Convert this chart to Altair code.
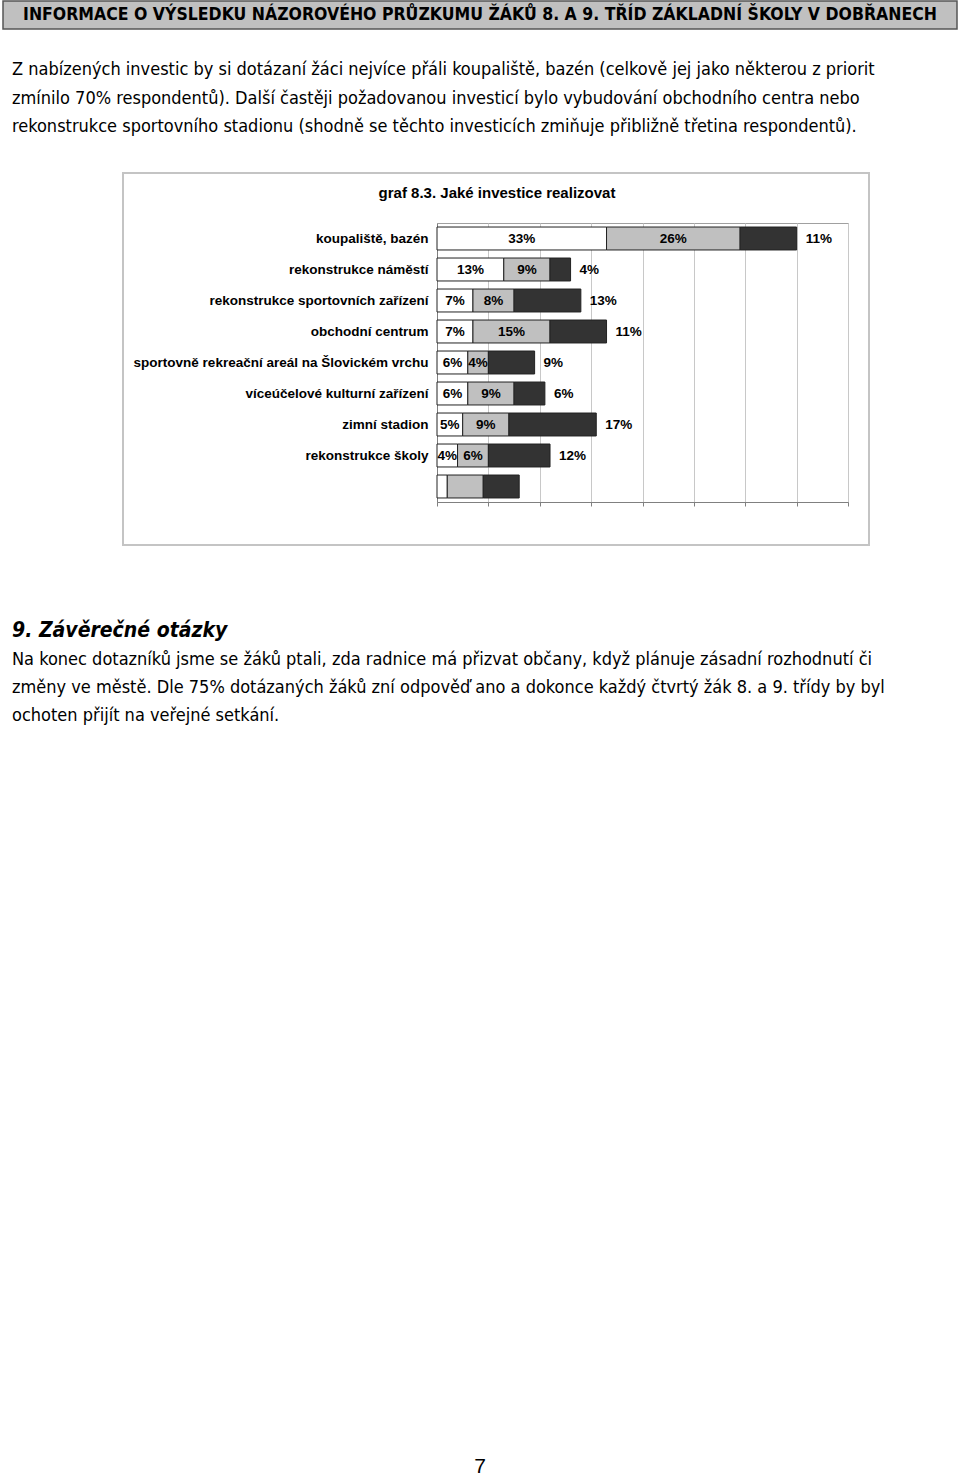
import altair as alt
import pandas as pd

# ---------------- data ----------------
categories = [
    "koupaliště, bazén",
    "rekonstrukce náměstí",
    "rekonstrukce sportovních zařízení",
    "obchodní centrum",
    "sportovně rekreační areál na Šlovickém vrchu",
    "víceúčelové kulturní zařízení",
    "zimní stadion",
    "rekonstrukce školy",
    "_",
]
series = ["1. priorita", "2. priorita", "3. priorita"]
prio1 = [33, 13, 7, 7, 6, 6, 5, 4, 2]
prio2 = [26, 9, 8, 15, 4, 9, 9, 6, 7]
prio3 = [11, 4, 13, 11, 9, 6, 17, 12, 7]
x_ticks = [0, 10, 20, 30, 40, 50, 60, 70, 80]

header_text = "INFORMACE O VÝSLEDKU NÁZOROVÉHO PRŮZKUMU ŽÁKŮ 8. A 9. TŘÍD ZÁKLADNÍ ŠKOLY V DOBŘANECH"
para1 = [
    "Z nabízených investic by si dotázaní žáci nejvíce přáli koupaliště, bazén (celkově jej jako některou z priorit",
    "zmínilo 70% respondentů). Další častěji požadovanou investicí bylo vybudování obchodního centra nebo",
    "rekonstrukce sportovního stadionu (shodně se těchto investicích zmiňuje přibližně třetina respondentů).",
]
chart_title = "graf 8.3. Jaké investice realizovat"
heading2 = "9. Závěrečné otázky"
para2 = [
    "Na konec dotazníků jsme se žáků ptali, zda radnice má přizvat občany, když plánuje zásadní rozhodnutí či",
    "změny ve městě. Dle 75% dotázaných žáků zní odpověď ano a dokonce každý čtvrtý žák 8. a 9. třídy by byl",
    "ochoten přijít na veřejné setkání.",
]
page_number = "7"

rows = []
for i, c in enumerate(categories):
    for j, (s, vals) in enumerate(zip(series, [prio1, prio2, prio3])):
        rows.append({"cat": c, "series": s, "ord": j, "value": vals[i]})
df = pd.DataFrame(rows)

# ---------------- layout ----------------
W, H = 960, 1477
OX, OY = 437, 223          # plot-area origin on the page
PW, PH = 411, 279          # plot-area size

BODY_FONT = "DejaVu Sans Condensed, DejaVu Sans"
CHART_FONT = "Liberation Sans, Arial"
BODY_SIZE = 18
LBL_SIZE = 13.5

one = pd.DataFrame({"a": [0]})


def txt(s, x, y, size, font=BODY_FONT, weight="normal", style="normal", align="left"):
    return alt.Chart(one).mark_text(
        align=align, baseline="middle", font=font, fontSize=size,
        fontWeight=weight, fontStyle=style, color="#000000"
    ).encode(x=alt.value(x - OX), y=alt.value(y - OY), text=alt.value(s))


def box(x1, y1, x2, y2, fill, stroke, sw):
    m = alt.Chart(one).mark_rect(fill=fill, stroke=stroke, strokeWidth=sw) if fill else \
        alt.Chart(one).mark_rect(fillOpacity=0, stroke=stroke, strokeWidth=sw)
    return m.encode(x=alt.value(x1 - OX), x2=alt.value(x2 - OX),
                    y=alt.value(y1 - OY), y2=alt.value(y2 - OY))


y_enc = alt.Y(
    "cat:N", sort=categories, title=None,
    scale=alt.Scale(paddingInner=0.26, paddingOuter=0.13),
    axis=alt.Axis(labelFont=CHART_FONT, labelFontSize=LBL_SIZE, labelFontWeight="bold",
                  labelColor="#000000", ticks=False, labelPadding=9,
                  domainColor="#808080", labelLimit=400,
                  labelExpr="datum.value == '_' ? '' : datum.value"),
)
x_scale = alt.Scale(domain=[0, 80], nice=False, zero=True)

bars = alt.Chart(df).mark_bar(stroke="#222222", strokeWidth=1).encode(
    x=alt.X("value:Q", stack="zero", scale=x_scale, title=None,
            axis=alt.Axis(values=x_ticks, labels=False, ticks=True, tickSize=4,
                          tickColor="#808080", domainColor="#808080",
                          grid=True, gridColor="#c8c8c8")),
    y=y_enc,
    color=alt.Color("series:N", scale=alt.Scale(domain=series,
                    range=["#ffffff", "#c0c0c0", "#333333"]), legend=None),
    order=alt.Order("ord:Q", sort="ascending"),
)

stacked = alt.Chart(df).transform_filter("datum.cat != '_'").transform_stack(
    stack="value", groupby=["cat"], as_=["x0", "x1"],
    sort=[alt.SortField("ord", order="ascending")],
).transform_calculate(mid="(datum.x0 + datum.x1) / 2", label="datum.value + '%'")

inner_labels = stacked.transform_filter("datum.ord < 2").mark_text(
    font=CHART_FONT, fontSize=LBL_SIZE, fontWeight="bold", color="#000000",
    align="center", baseline="middle"
).encode(x=alt.X("mid:Q", scale=x_scale), y=y_enc, text="label:N")

outer_labels = stacked.transform_filter("datum.ord == 2").mark_text(
    font=CHART_FONT, fontSize=LBL_SIZE, fontWeight="bold", color="#000000",
    align="left", baseline="middle", dx=9
).encode(x=alt.X("x1:Q", scale=x_scale), y=y_enc, text="label:N")

layers = [
    box(123, 173, 869, 545, None, "#c4c4c4", 2),
    box(3, 1, 957, 29, "#c0c0c0", "#555555", 1.5),
    txt(header_text, 480, 15, 17.5, weight="bold", align="center"),
    txt(para1[0], 12, 70, BODY_SIZE),
    txt(para1[1], 12, 99, BODY_SIZE),
    txt(para1[2], 12, 127, BODY_SIZE),
    txt(chart_title, 497, 193, 15, font=CHART_FONT, weight="bold", align="center"),
    bars,
    inner_labels,
    outer_labels,
    txt(heading2, 12, 631, 21, weight="bold", style="italic"),
    txt(para2[0], 12, 660, BODY_SIZE),
    txt(para2[1], 12, 688, BODY_SIZE),
    txt(para2[2], 12, 716, BODY_SIZE),
    txt(page_number, 480, 1467, 21, font=CHART_FONT, align="center"),
]

chart = alt.layer(*layers).properties(
    width=PW, height=PH,
    padding={"left": OX, "top": OY, "right": W - OX - PW, "bottom": H - OY - PH},
    autosize=alt.AutoSizeParams(type="none"),
    background="#ffffff",
).configure_view(stroke="#a0a0a0", strokeWidth=1)

chart.save("out.html", embed_options={"renderer": "svg", "actions": False})
